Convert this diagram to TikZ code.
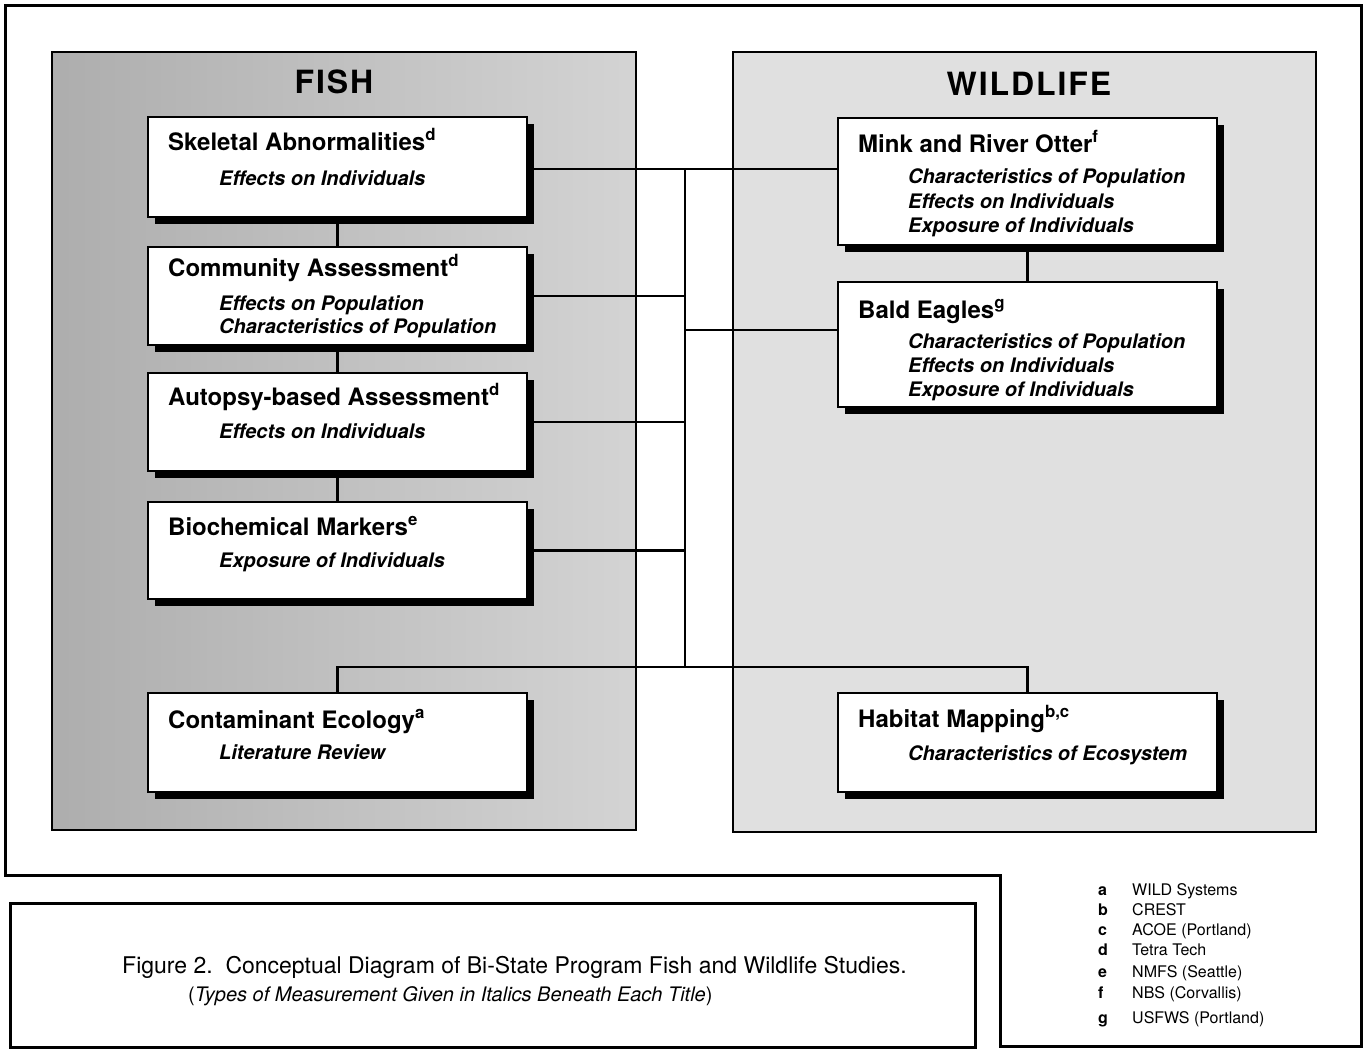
\documentclass[tikz,border=0pt]{standalone}
\usepackage{fontspec}
\setmainfont{TeX Gyre Heros}
\usetikzlibrary{shadows,calc}
\pgfdeclarelayer{back}
\pgfdeclarelayer{mid}
\pgfsetlayers{back,mid,main}
\begin{document}
\begin{tikzpicture}[x=1pt,y=-1pt,
  outerframe/.style={line width=3pt},
  panel/.style={draw=black, line width=1.2pt},
  box/.style={draw=black, line width=1.8pt, fill=white, minimum width=379pt, inner sep=0pt, outer sep=0pt, anchor=north west,
    general shadow={fill=black, shadow xshift=7pt, shadow yshift=-7pt}},
  conn/.style={line width=2.8pt},
  ttl/.style={font=\fontsize{24}{26}\selectfont\bfseries, anchor=base west, inner sep=0pt},
  subt/.style={font=\fontsize{20}{24}\selectfont\bfseries\itshape, anchor=base west, inner sep=0pt},
  headt/.style={font=\fontsize{32}{36}\selectfont\bfseries\addfontfeature{LetterSpace=6}, anchor=base, inner sep=0pt},
  legn/.style={font=\fontsize{16}{18}\selectfont, anchor=base west, inner sep=0pt},
  legl/.style={font=\fontsize{16}{18}\selectfont\bfseries, anchor=base west, inner sep=0pt},
  capta/.style={font=\fontsize{23}{26}\selectfont, anchor=base west, inner sep=0pt},
  captb/.style={font=\fontsize{20}{22}\selectfont, anchor=base west, inner sep=0pt},
]
\useasboundingbox (0,0) rectangle (1364,1052);
\begin{pgfonlayer}{back}
\fill[white] (0,0) rectangle (1364,1052);
\draw[outerframe] (5,5) -- (1361,5) -- (1361,1046) -- (1000,1046) -- (1000,875) -- (5,875) -- cycle;
\draw[outerframe] (10,903) rectangle (975,1047);
\draw[panel, left color=black!32, right color=black!17] (52,52) rectangle (636,830);
\draw[panel, fill=black!12] (733,52) rectangle (1316,832);
\end{pgfonlayer}

% headings
\node[headt] (fishH) at (334,93) {FISH};
\node[headt] (wildH) at (1029,95) {WILDLIFE};

% boxes
\node[box, minimum height=100pt] (skel) at (148,117) {};
\node[box, minimum height=98pt] (comm) at (148,247) {};
\node[box, minimum height=98pt] (auto) at (148,373) {};
\node[box, minimum height=97pt] (bio) at (148,502) {};
\node[box, minimum height=99pt] (cont) at (148,693) {};
\node[box, minimum height=127pt] (mink) at (838,118) {};
\node[box, minimum height=125pt] (bald) at (838,282) {};
\node[box, minimum height=99pt] (hab) at (838,693) {};

% connectors
\begin{pgfonlayer}{mid}
\coordinate (st) at (685,169);
\coordinate (sb) at (685,667);
\coordinate (jb) at (685,330);
\draw[conn] (skel) -- (comm);
\draw[conn] (comm) -- (auto);
\draw[conn] (auto) -- (bio);
\draw[conn] (mink) -- (bald);
\draw[conn] (st) -- (sb);
\draw[conn] (skel.center |- st) -- (st -| mink.center);
\draw[conn] (comm) -- (comm -| st);
\draw[conn] (auto) -- (auto -| st);
\draw[conn] (bio) -- (bio -| st);
\draw[conn] (jb) -- (jb -| bald);
\draw[conn] (cont) |- (sb) -| (hab);
\end{pgfonlayer}

% box texts
\node[ttl] (skelT) at ([xshift=20pt,yshift=-33pt]skel.north west) {Skeletal Abnormalities\textsuperscript{d}};
\node[subt] (skelS) at ([xshift=71pt,yshift=-68pt]skel.north west) {Effects on Individuals};

\node[ttl] (commT) at ([xshift=20pt,yshift=-29pt]comm.north west) {Community Assessment\textsuperscript{d}};
\node[subt] (commS1) at ([xshift=71pt,yshift=-63pt]comm.north west) {Effects on Population};
\node[subt] (commS2) at ([xshift=71pt,yshift=-86pt]comm.north west) {Characteristics of Population};

\node[ttl] (autoT) at ([xshift=20pt,yshift=-32pt]auto.north west) {Autopsy-based Assessment\textsuperscript{d}};
\node[subt] (autoS) at ([xshift=71pt,yshift=-65pt]auto.north west) {Effects on Individuals};

\node[ttl] (bioT) at ([xshift=20pt,yshift=-33pt]bio.north west) {Biochemical Markers\textsuperscript{e}};
\node[subt] (bioS) at ([xshift=71pt,yshift=-65pt]bio.north west) {Exposure of Individuals};

\node[ttl] (contT) at ([xshift=20pt,yshift=-35pt]cont.north west) {Contaminant Ecology\textsuperscript{a}};
\node[subt] (contS) at ([xshift=71pt,yshift=-66pt]cont.north west) {Literature Review};

\node[ttl] (minkT) at ([xshift=20pt,yshift=-34pt]mink.north west) {Mink and River Otter\textsuperscript{f}};
\node[subt] (minkS1) at ([xshift=70pt,yshift=-65pt]mink.north west) {Characteristics of Population};
\node[subt] (minkS2) at ([xshift=70pt,yshift=-90pt]mink.north west) {Effects on Individuals};
\node[subt] (minkS3) at ([xshift=70pt,yshift=-114pt]mink.north west) {Exposure of Individuals};

\node[ttl] (baldT) at ([xshift=20pt,yshift=-36pt]bald.north west) {Bald Eagles\textsuperscript{g}};
\node[subt] (baldS1) at ([xshift=70pt,yshift=-66pt]bald.north west) {Characteristics of Population};
\node[subt] (baldS2) at ([xshift=70pt,yshift=-90pt]bald.north west) {Effects on Individuals};
\node[subt] (baldS3) at ([xshift=70pt,yshift=-114pt]bald.north west) {Exposure of Individuals};

\node[ttl] (habT) at ([xshift=20pt,yshift=-34pt]hab.north west) {Habitat Mapping\textsuperscript{b,c}};
\node[subt] (habS) at ([xshift=70pt,yshift=-67pt]hab.north west) {Characteristics of Ecosystem};

% caption
\node[capta] (cap1) at (122,973) {Figure 2.\ \ Conceptual Diagram of Bi-State Program Fish and Wildlife Studies.};
\node[captb] (cap2) at (188,1001) {(\textit{Types of Measurement Given in Italics Beneath Each Title})};

% legend
\node[legl] (la) at (1098,895) {a};  \node[legn] (na) at (1132,895) {WILD Systems};
\node[legl] (lb) at (1098,915) {b};  \node[legn] (nb) at (1132,915) {CREST};
\node[legl] (lc) at (1098,935) {c};  \node[legn] (nc) at (1132,935) {ACOE (Portland)};
\node[legl] (ld) at (1098,955) {d};  \node[legn] (nd) at (1132,955) {Tetra Tech};
\node[legl] (le) at (1098,977) {e};  \node[legn] (ne) at (1132,977) {NMFS (Seattle)};
\node[legl] (lf) at (1098,998) {f};  \node[legn] (nf) at (1132,998) {NBS (Corvallis)};
\node[legl] (lg) at (1098,1023) {g}; \node[legn] (ng) at (1132,1023) {USFWS (Portland)};
\end{tikzpicture}
\end{document}
